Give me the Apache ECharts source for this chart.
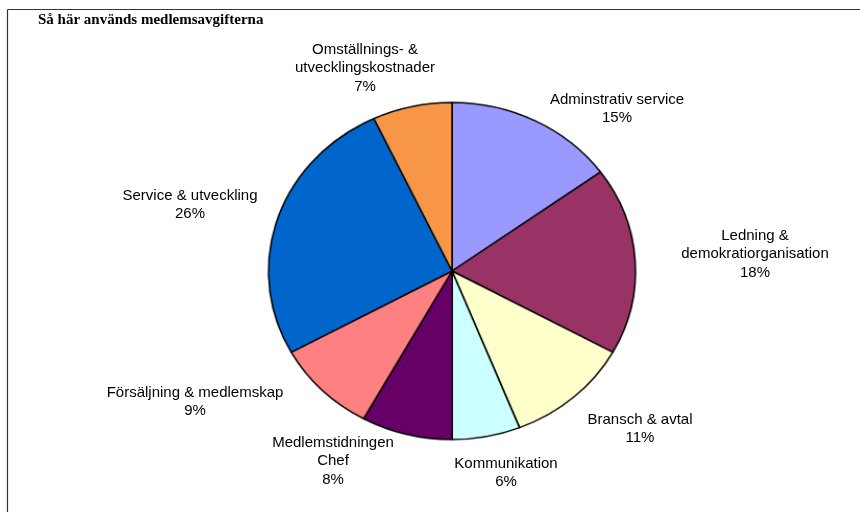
<!DOCTYPE html>
<html>
<head>
<meta charset="utf-8">
<script src="https://cdn.jsdelivr.net/npm/echarts@6/dist/echarts.min.js"></script>
<style>
  html, body { margin: 0; padding: 0; background: #fff; }
  #wrap { position: relative; width: 860px; height: 512px; overflow: hidden; }
  #pie, #chart { position: absolute; left: 0; top: 0; width: 860px; height: 512px; }
  /* Excel ritar pajen som en ellips (183 x 168 px) */
  #pie { transform-origin: 452px 271px; transform: scale(1.0426, 0.9574); }
</style>
</head>
<body>
<div id="wrap">
  <div id="pie"></div>
  <div id="chart"></div>
</div>
<script>
// Andelar av medlemsavgiften, medurs från kl. 12
const NAMES = [
  "Adminstrativ service",
  "Ledning &\ndemokratiorganisation",
  "Bransch & avtal",
  "Kommunikation",
  "Medlemstidningen\nChef",
  "Försäljning & medlemskap",
  "Service & utveckling",
  "Omställnings- &\nutvecklingskostnader",
];
const SHARES = [15, 18, 11, 6, 8, 9, 26, 7];
const COLORS = ["#9999ff", "#993366", "#ffffcc", "#ccffff", "#660066", "#ff8080", "#0066cc", "#f79646"];

// etiketternas mittpunkter (Excel lägger dem fritt, inte längs mittvinkeln)
const LABEL_POS = [
  [617, 109], [755, 254], [640, 429], [506, 473],
  [333, 461], [195, 402], [190, 205], [365, 68],
];

const CENTER = [452, 271];
const RADIUS = 176;

// pajen själv (skalas till ellips via CSS)
const pie = echarts.init(document.getElementById("pie"));
pie.setOption({
  animation: false,
  series: [
    {
      type: "pie",
      center: CENTER,
      radius: RADIUS,
      startAngle: 90,
      clockwise: true,
      itemStyle: { borderColor: "#000", borderWidth: 1.5 },
      emphasis: { disabled: true },
      label: { show: false },
      labelLine: { show: false },
      data: NAMES.map((n, i) => ({ name: n, value: SHARES[i], itemStyle: { color: COLORS[i] } })),
    },
  ],
});

// rubrik, ram och etiketter ovanpå (utan förvrängd text)
const chart = echarts.init(document.getElementById("chart"));
chart.setOption({
  animation: false,
  graphic: [
    { type: "line", shape: { x1: 7.5, y1: 9.5, x2: 860, y2: 9.5 }, style: { stroke: "#333", lineWidth: 1.2 } },
    { type: "line", shape: { x1: 7.5, y1: 9.5, x2: 7.5, y2: 512 }, style: { stroke: "#333", lineWidth: 1.2 } },
    {
      type: "text", left: 38, top: 13,
      style: {
        text: "Så här används medlemsavgifterna",
        font: "bold 15px 'Liberation Serif', 'Times New Roman', serif",
        fill: "#000",
      },
    },
  ],
  series: [
    {
      type: "pie",
      center: CENTER,
      radius: RADIUS,
      startAngle: 90,
      clockwise: true,
      silent: true,
      avoidLabelOverlap: false,
      itemStyle: { color: "rgba(0,0,0,0)", borderWidth: 0 },
      emphasis: { disabled: true },
      label: {
        show: true,
        position: "outside",
        formatter: (p) => p.name + "\n" + p.value + "%",
        fontFamily: "'Liberation Sans', Arial, sans-serif",
        fontSize: 15,
        lineHeight: 18.5,
        color: "#000",
        align: "center",
      },
      labelLine: { show: false },
      labelLayout: (p) => ({
        x: LABEL_POS[p.dataIndex][0],
        y: LABEL_POS[p.dataIndex][1],
        align: "center",
        verticalAlign: "middle",
      }),
      data: NAMES.map((n, i) => ({ name: n, value: SHARES[i] })),
    },
  ],
});
</script>
</body>
</html>
